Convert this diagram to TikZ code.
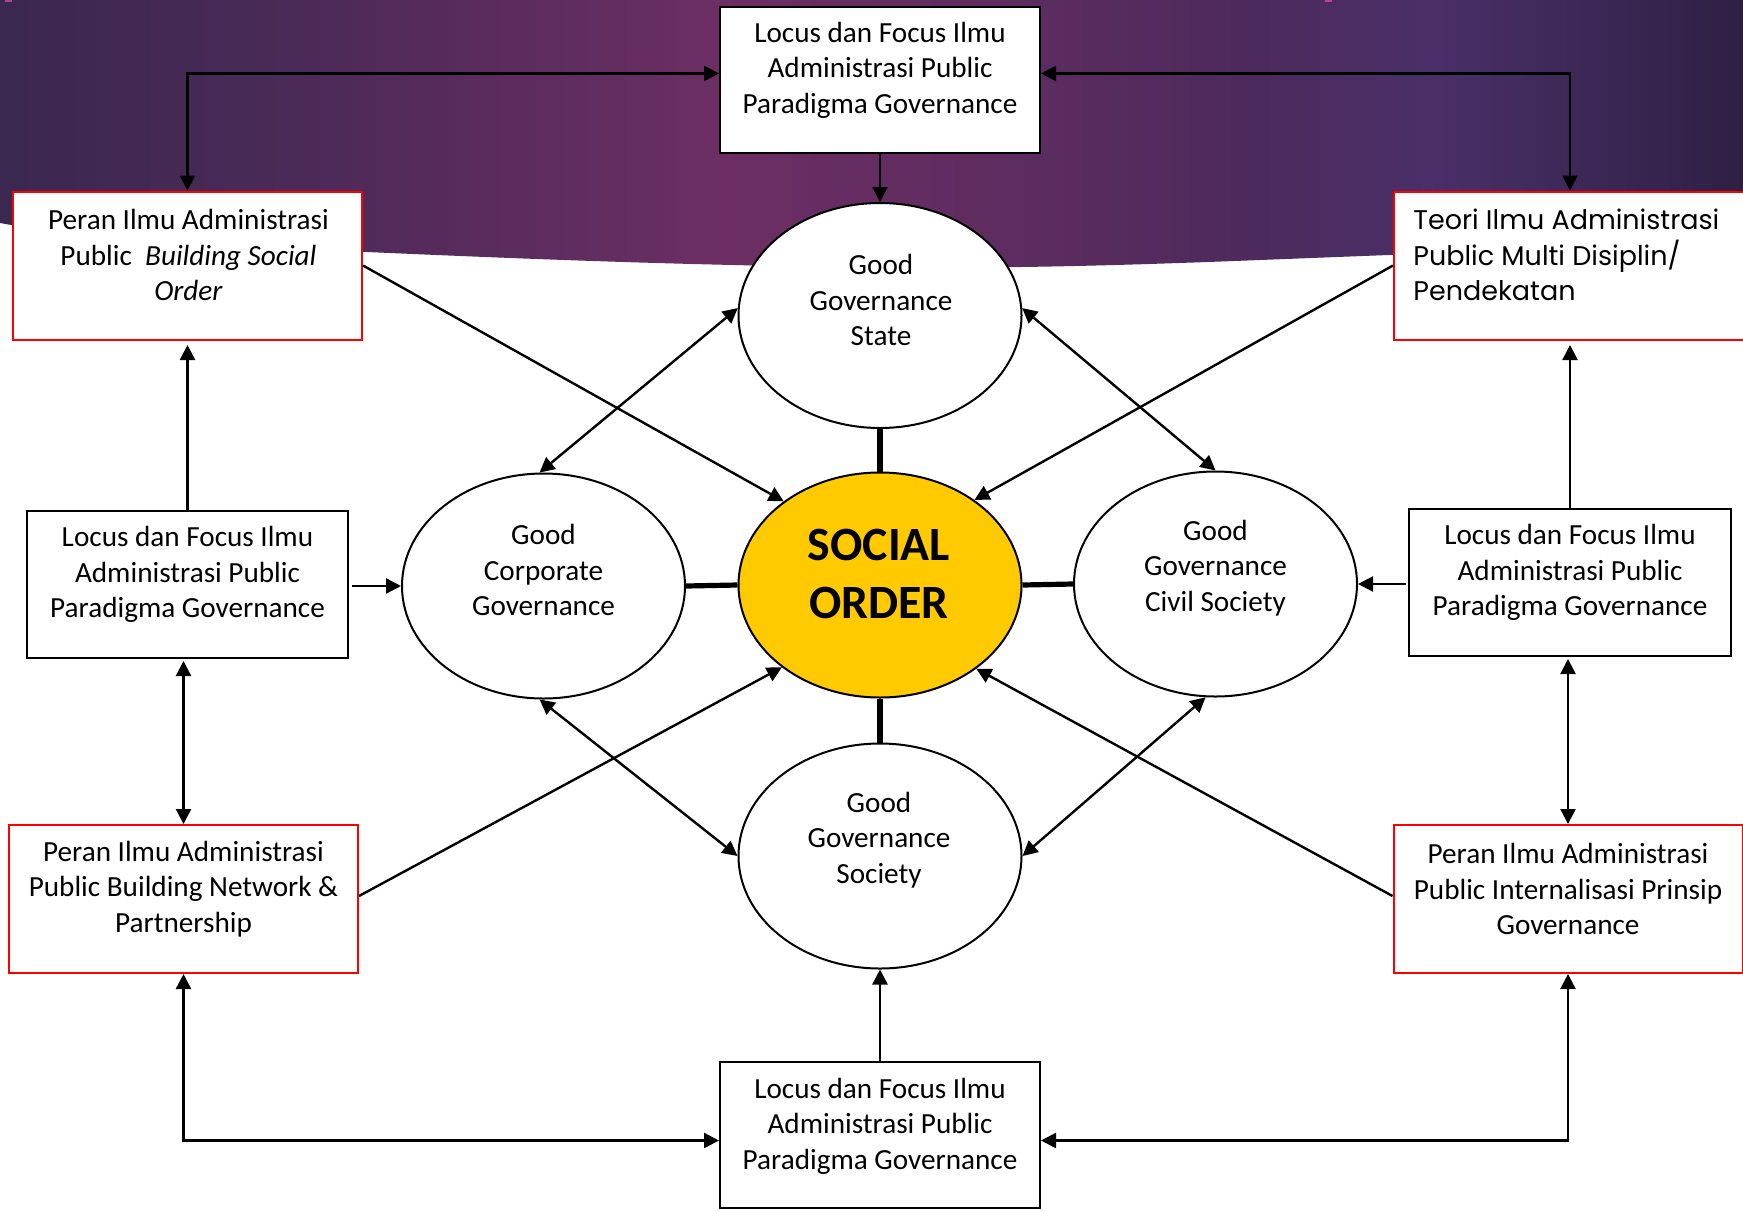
\documentclass[tikz,border=0pt]{standalone}
\usepackage{fontspec}
\setmainfont{Carlito}
\newfontfamily\gothic{Poppins}
\usetikzlibrary{arrows.meta,shapes.geometric,calc}

% banner colours, left to right
\definecolor{bnA}{HTML}{3A2850}
\definecolor{bnB}{HTML}{4B2A58}
\definecolor{bnC}{HTML}{6C2E63}
\definecolor{bnD}{HTML}{5E2C60}
\definecolor{bnE}{HTML}{4D2A5C}
\definecolor{bnF}{HTML}{4A2F68}
\definecolor{bnG}{HTML}{2E2044}
\definecolor{accentpink}{HTML}{B4449A}
\definecolor{gold}{HTML}{FFCA00}
\pgfdeclarehorizontalshading{bannershade}{100bp}{color(0bp)=(bnA); color(25bp)=(bnA); color(33.6bp)=(bnB); color(45.7bp)=(bnC); color(53.7bp)=(bnD); color(60.9bp)=(bnE); color(66bp)=(bnF); color(75bp)=(bnG); color(100bp)=(bnG)}

\begin{document}
\begin{tikzpicture}[x=0.5pt,y=-0.5pt,
  body/.style={font=\fontsize{14.6}{17.8}\selectfont, align=center, inner sep=0pt, text=black},
  plainbox/.style={draw=black, line width=1pt, fill=white, inner sep=0pt, minimum width=160pt, minimum height=73pt},
  redbox/.style={draw=red, line width=1pt, fill=white, inner sep=0pt, minimum width=174.5pt, minimum height=74pt},
  oval/.style={ellipse, draw=black, line width=1pt, fill=white, inner sep=0pt, minimum width=141.5pt, minimum height=112.5pt},
  link/.style={draw=black, line width=1.2pt},
  bar/.style={draw=black, line width=2.6pt},
  >={Triangle[length=7.5pt,width=7.5pt]},
]
\useasboundingbox (0,0) rectangle (1743,1210);
\fill[white] (0,0) rectangle (1743,1210);

% purple banner with a curved lower edge
\shade[shading=bannershade] (0,0) -- (1743,0) -- (1743,240)
  -- plot[smooth, tension=0.7] coordinates {(1743,240) (1389,255) (1022,267) (733,265) (367,252) (120,238) (0,223)}
  -- cycle;
\fill[accentpink] (5,0) rectangle (12,1.5);
\fill[accentpink] (1325,0) rectangle (1332,1.5);

% boxes
\node[plainbox] (top) at (880,79.5) {};
\node[redbox] (tl) at (187.5,265.5) {};
\node[redbox, minimum width=176pt] (tr) at (1570,265.5) {};
\node[plainbox, minimum width=160.5pt, minimum height=73.5pt] (lm) at (187.5,584.5) {};
\node[plainbox, minimum width=161pt, minimum height=73.5pt] (rm) at (1570,582.5) {};
\node[redbox] (bl) at (183.5,899) {};
\node[redbox] (br) at (1568,899) {};
\node[plainbox] (bot) at (880,1135) {};

% ellipses
\node[oval] (state) at (880,315.5) {};
\node[oval, fill=gold] (soc) at (880,585) {};
\node[oval] (corp) at (543.5,586) {};
\node[oval] (civ) at (1215.5,584) {};
\node[oval] (socy) at (880,856) {};

% labels
\node[body] (topT) at (880,70) {Locus dan Focus Ilmu\\Administrasi Public\\Paradigma Governance};
\node[body] (tlT) at (188.5,255) {Peran Ilmu Administrasi\\Public\hspace{0.45em}\textit{Building Social}\\\textit{Order}};
\node[body, anchor=west, align=left, font=\gothic\fontsize{13.5}{17.6}\selectfont] (trT) at (1413,255) {Teori Ilmu Administrasi\\Public Multi Disiplin/\\Pendekatan};
\node[body] (lmT) at (187.5,574.5) {Locus dan Focus Ilmu\\Administrasi Public\\Paradigma Governance};
\node[body] (rmT) at (1570,572.5) {Locus dan Focus Ilmu\\Administrasi Public\\Paradigma Governance};
\node[body] (blT) at (183.5,889) {Peran Ilmu Administrasi\\Public Building Network \&\\Partnership};
\node[body] (brT) at (1568,889) {Peran Ilmu Administrasi\\Public Internalisasi Prinsip\\Governance};
\node[body] (botT) at (880,1126) {Locus dan Focus Ilmu\\Administrasi Public\\Paradigma Governance};

\node[body] (stateT) at (881,300) {Good\\Governance\\State};
\node[body] (corpT) at (543.5,570) {Good\\Corporate\\Governance};
\node[body] (civT) at (1215.5,568) {Good\\Governance\\Civil Society};
\node[body] (socyT) at (879,840) {Good\\Governance\\Society};
\node[body, font=\bfseries\fontsize{23.9}{29}\selectfont] (socT) at (879,574) {SOCIAL\\ORDER};

% top and bottom frames
\draw[link,<->] ([yshift=3pt]top.west) -| (tl.north);
\draw[link,<->] ([yshift=3pt]top.east) -| (tr.north);
\draw[link,<->] ([yshift=-2.75pt]bot.west) -| (bl.south);
\draw[link,<->] ([yshift=-2.75pt]bot.east) -| (br.south);
\draw[link,->] (top.south) -- (state.north);
\draw[link,->] (bot.north) -- (socy.south);

% side columns
\draw[link,->,shorten >=2.25pt] (lm.north -| tl.south) -- (tl.south);
\draw[link,<->,shorten <=1pt] (bl.north |- lm.south) -- (bl.north);
\draw[link,->,shorten >=2.25pt] (rm.north) -- (rm.north |- tr.south);
\draw[link,<->,shorten <=1pt] (br.north |- rm.south) -- (br.north);
\draw[link,->,shorten <=1.5pt] (corp.west -| lm.east) -- (corp.west);
\draw[link,->,shorten <=1pt] (civ.east -| rm.west) -- (civ.east);

% spokes into the centre
\draw[bar] (state.south) -- (soc.north);
\draw[bar] (corp.east) -- (soc.west);
\draw[bar] (soc.east) -- (civ.west);
\draw[bar] (soc.south) -- (socy.north);

\draw[link,->] (tl.east) -- (soc.139);
\draw[link,->] (tr.west) -- (soc.42);
\draw[link,->] ([yshift=1.5pt]bl.east) -- (soc.220);
\draw[link,->] ([yshift=1.5pt]br.west) -- (soc.-41);

% links between the ellipses
\draw[link,<->] (state.177) -- (corp.92);
\draw[link,<->] (state.3) -- (civ.90);
\draw[link,<->] (corp.268) -- (socy.180);
\draw[link,<->] (civ.265) -- (socy.0);
\end{tikzpicture}
\end{document}
